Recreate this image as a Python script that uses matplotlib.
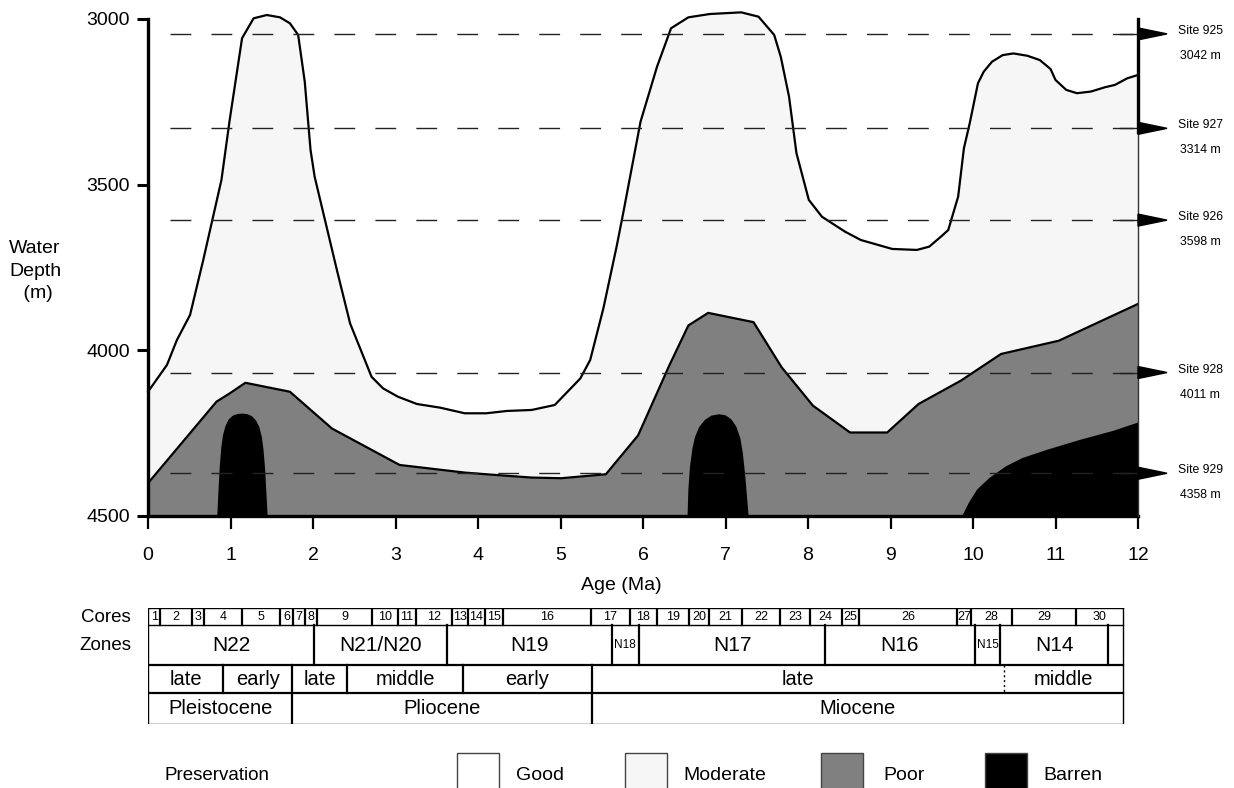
#!/usr/bin/env python3
"""Preservation of planktonic foraminifera vs. water depth and age (Ceara Rise sites)."""
from __future__ import annotations

import matplotlib

matplotlib.use("Agg")
import matplotlib.pyplot as plt
from matplotlib.patches import Polygon, Rectangle

plt.rcParams["font.family"] = ["Liberation Sans", "DejaVu Sans"]

# ---- data ---------------------------------------------------------------------
# upper boundary of the "moderate" field (good above it)
moderate_age = [0.0, 0.23, 0.35, 0.51, 0.67, 0.89, 0.99, 1.14, 1.28, 1.44, 1.60, 1.72,
                1.82, 1.90, 1.97, 2.02, 2.29, 2.45, 2.71, 2.85, 3.03, 3.26, 3.54, 3.84,
                4.10, 4.35, 4.65, 4.93, 5.24, 5.36, 5.52, 5.68, 5.76, 5.97, 6.17, 6.34,
                6.55, 6.81, 7.19, 7.40, 7.59, 7.67, 7.77, 7.86, 8.01, 8.17, 8.45, 8.64,
                9.02, 9.32, 9.47, 9.62, 9.70, 9.82, 9.89, 9.96, 10.06, 10.13, 10.23,
                10.36, 10.49, 10.66, 10.81, 10.94, 11.00, 11.13, 11.26, 11.43, 11.60,
                11.72, 11.87, 12.0]
moderate_depth = [4125, 4044, 3969, 3893, 3727, 3486, 3305, 3058, 2998, 2988, 2995, 3013,
                  3048, 3189, 3395, 3476, 3758, 3919, 4080, 4115, 4140, 4162, 4173, 4190,
                  4190, 4183, 4180, 4165, 4085, 4029, 3873, 3687, 3586, 3310, 3144, 3028,
                  2995, 2985, 2980, 2993, 3048, 3114, 3234, 3405, 3546, 3597, 3642, 3667,
                  3694, 3697, 3687, 3655, 3637, 3536, 3390, 3315, 3194, 3159, 3129,
                  3109, 3104, 3111, 3124, 3151, 3184, 3214, 3224, 3219, 3206,
                  3199, 3179, 3169]

# upper boundary of the "poor" field
poor_age = [0.0, 0.83, 0.99, 1.18, 1.72, 2.23, 3.05, 3.84, 4.10, 4.65, 5.01, 5.55, 5.94,
            6.32, 6.55, 6.79, 7.34, 7.68, 8.06, 8.51, 8.96, 9.34, 9.85, 10.34, 11.04, 12.0]
poor_depth = [4401, 4155, 4130, 4098, 4125, 4236, 4346, 4369, 4374, 4384, 4386, 4374, 4257,
              4045, 3925, 3887, 3915, 4051, 4167, 4248, 4248, 4162, 4092, 4011, 3971, 3860]

# barren fields
barren1_age = [0.84, 0.855, 0.87, 0.89, 0.91, 0.94, 0.98, 1.03, 1.09, 1.15, 1.21, 1.26,
               1.31, 1.35, 1.38, 1.40, 1.42, 1.435, 1.45]
barren1_depth = [4500, 4420, 4350, 4290, 4255, 4228, 4208, 4197, 4192, 4191, 4193, 4199,
                 4212, 4232, 4262, 4300, 4360, 4430, 4500]
barren2_age = [6.54, 6.55, 6.57, 6.60, 6.63, 6.68, 6.75, 6.83, 6.92, 7.00, 7.07, 7.13,
               7.18, 7.21, 7.24, 7.26, 7.28]
barren2_depth = [4500, 4420, 4350, 4295, 4262, 4232, 4210, 4197, 4193, 4196, 4208, 4230,
                 4265, 4310, 4380, 4440, 4500]
barren3_age = [9.87, 9.95, 10.05, 10.2, 10.4, 10.6, 10.9, 11.3, 11.7, 12.0]
barren3_depth = [4500, 4460, 4420, 4385, 4350, 4325, 4300, 4270, 4243, 4218]

# sites: reference line depth as drawn, and the labels
site_names = ["Site 925", "Site 927", "Site 926", "Site 928", "Site 929"]
site_labels = ["3042 m", "3314 m", "3598 m", "4011 m", "4358 m"]
site_line_depth = [3045, 3330, 3607, 4067, 4371]

# stratigraphy (boundaries in Ma)
core_edges = [0.0, 0.15, 0.53, 0.68, 1.14, 1.60, 1.76, 1.90, 2.05, 2.72, 3.03, 3.25, 3.68,
              3.88, 4.08, 4.30, 5.37, 5.84, 6.17, 6.56, 6.80, 7.20, 7.66, 8.02, 8.41, 8.62,
              9.81, 9.98, 10.47, 11.25, 11.82]
core_names = [str(i) for i in range(1, 31)]
zone_edges = [0.0, 2.01, 3.63, 5.62, 5.95, 8.21, 10.02, 10.33, 11.64, 11.82]
zone_names = ["N22", "N21/N20", "N19", "N18", "N17", "N16", "N15", "N14", ""]
sub_edges = [0.0, 0.91, 1.75, 2.41, 3.82, 5.38, 10.38, 11.82]
sub_names = ["late", "early", "late", "middle", "early", "late", "middle"]
epoch_edges = [0.0, 1.75, 5.38, 11.82]
epoch_names = ["Pleistocene", "Pliocene", "Miocene"]

legend_names = ["Good", "Moderate", "Poor", "Barren"]
legend_colors = ["white", "#f6f6f6", "#808080", "black"]

W, H = 1234, 788


def fx(px):
    return px / W


def fy(py):
    return 1 - py / H


def main() -> None:
    fig = plt.figure(figsize=(W / 100, H / 100), dpi=100)

    # main panel: x 0..12 over px 148..1138, depth 2975..4500 over px 10.7..516
    ax = fig.add_axes([fx(148), fy(516), fx(990), (516 - 10.7) / H])
    ax.set_xlim(0, 12)
    ax.set_ylim(4500, 2975)
    for s in ("top", "right"):
        ax.spines[s].set_visible(False)
    ax.spines["left"].set_bounds(3000, 4500)
    ax.spines["left"].set_linewidth(2.4)
    ax.spines["bottom"].set_linewidth(2.4)
    ax.set_yticks([3000, 3500, 4000, 4500])
    ax.set_xticks(range(13))
    ax.tick_params(axis="y", length=8, width=2.2, labelsize=14, pad=5)
    ax.tick_params(axis="x", length=9, width=1.6, labelsize=14, pad=13)
    ax.set_xlabel("Age (Ma)", fontsize=14, labelpad=10)
    ax.xaxis.set_label_coords(0.478, -0.12)
    fig.text(fx(35), fy(271), "Water\nDepth\n (m)", ha="center", va="center",
             fontsize=14, linespacing=1.45)

    ax.fill_between(moderate_age, moderate_depth, 4500, color="#f6f6f6", lw=0, zorder=1)
    ax.fill_between(poor_age, poor_depth, 4500, color="#808080", lw=0, zorder=2)
    for a, d in ((barren1_age, barren1_depth), (barren2_age, barren2_depth)):
        ax.fill(a, d, color="black", lw=0, zorder=3)
    ax.fill(barren3_age + [12.0], barren3_depth + [4500], color="black", lw=0, zorder=3)
    ax.plot(moderate_age, moderate_depth, color="black", lw=1.6, zorder=4, clip_on=False)
    ax.plot(poor_age, poor_depth, color="black", lw=1.6, zorder=4)

    # right-hand frame line
    ax.plot([12, 12], [3000, 3340], color="black", lw=2.4, zorder=6, clip_on=False)
    ax.plot([12, 12], [3340, 4500], color="#333333", lw=1.0, zorder=6, clip_on=False)

    dx = 1 / 82.5      # Ma per pixel
    dy = 1 / 0.3313    # m per pixel
    for name, lab, d in zip(site_names, site_labels, site_line_depth):
        ax.plot([0.27, 12.0], [d, d], color="#222222", lw=1.0,
                linestyle=(0, (15, 14.5)), zorder=5)
        ax.plot([11.78, 12.0], [d, d], color="#222222", lw=1.0, zorder=5)
        tri = Polygon([[12.0, d - 6 * dy], [12.0, d + 6 * dy], [12.0 + 29 * dx, d]],
                      closed=True, color="black", clip_on=False, zorder=7)
        ax.add_patch(tri)
        ax.text(12.0 + 63 * dx, d - 3 * dy, name, ha="center", va="center",
                fontsize=8.8, clip_on=False)
        ax.text(12.0 + 62 * dx, d + 22 * dy, lab, ha="center", va="center",
                fontsize=8.8, clip_on=False)

    # stratigraphic table below the age axis
    rows = [607.5, 625, 665, 693, 724]
    tab = fig.add_axes([fx(148), fy(rows[-1]), fx(990), (rows[-1] - rows[0]) / H])
    tab.set_xlim(0, 12)
    tab.set_ylim(rows[-1], rows[0])
    tab.axis("off")
    right = core_edges[-1]
    for y in rows:
        tab.plot([0, right], [y, y], color="black", lw=1.6 if y in (665, 693) else 1.0)
    tab.plot([0, 0], [rows[0], rows[-1]], color="black", lw=1.0)
    tab.plot([right, right], [rows[0], rows[-1]], color="black", lw=1.0)

    def row(edges, names, y0, y1, size, small=()):
        for e in edges[1:-1]:
            if e == 10.38:
                tab.plot([e, e], [y0, y1], color="black", lw=1.0, linestyle=(0, (1.5, 2)))
            else:
                tab.plot([e, e], [y0, y1], color="black", lw=1.6)
        for lo, hi, nm in zip(edges[:-1], edges[1:], names):
            tab.text((lo + hi) / 2, (y0 + y1) / 2 + 0.5, nm, ha="center", va="center",
                     fontsize=8.5 if nm in small else size)

    row(core_edges, core_names, rows[0], rows[1], 9)
    row(zone_edges, zone_names, rows[1], rows[2], 15, small=("N18", "N15"))
    row(sub_edges, sub_names, rows[2], rows[3], 14.5)
    row(epoch_edges, epoch_names, rows[3], rows[4], 14.5)
    fig.text(fx(131), fy(617), "Cores", ha="right", va="center", fontsize=13.5)
    fig.text(fx(131), fy(645), "Zones", ha="right", va="center", fontsize=13.5)

    # legend
    fig.text(fx(164), fy(775), "Preservation", ha="left", va="center", fontsize=13.5)
    box_left = [457, 625, 821, 985]
    text_left = [516, 683, 883, 1043]
    for name, col, bx, tx in zip(legend_names, legend_colors, box_left, text_left):
        fig.patches.append(Rectangle((fx(bx), fy(800)), fx(42), (800 - 753) / H,
                                     transform=fig.transFigure, facecolor=col,
                                     edgecolor="#444444", lw=1.0))
        fig.text(fx(tx), fy(775), name, ha="left", va="center", fontsize=14)

    fig.savefig("out.png", dpi=100)
    plt.close(fig)


if __name__ == "__main__":
    main()
